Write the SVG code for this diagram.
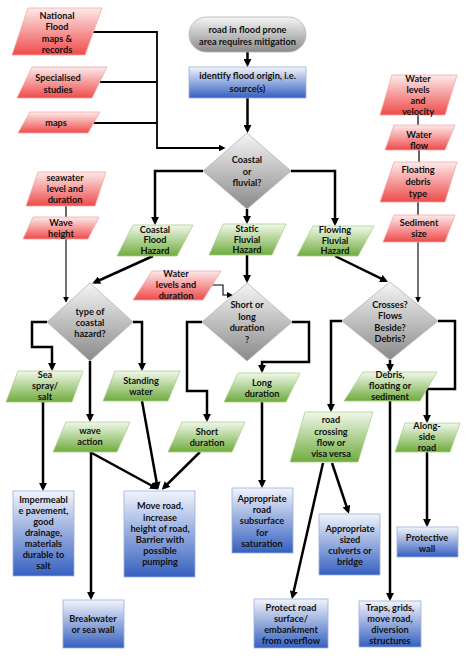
<svg xmlns="http://www.w3.org/2000/svg" width="474" height="662" viewBox="0 0 474 662">
<defs>
<linearGradient id="gRed" x1="0" y1="0" x2="0" y2="1"><stop offset="0" stop-color="#fdeaea"/><stop offset="1" stop-color="#f04a4a"/></linearGradient>
<linearGradient id="gGreen" x1="0" y1="0" x2="0" y2="1"><stop offset="0" stop-color="#f1f8eb"/><stop offset="1" stop-color="#6fac3d"/></linearGradient>
<linearGradient id="gBlue" x1="0" y1="0" x2="0" y2="1"><stop offset="0" stop-color="#f1f4fb"/><stop offset="1" stop-color="#3560c0"/></linearGradient>
<linearGradient id="gGray" x1="0" y1="0" x2="0" y2="1"><stop offset="0" stop-color="#f5f5f5"/><stop offset="1" stop-color="#8a8a8a"/></linearGradient>
<marker id="ah" viewBox="0 0 10 10" refX="7" refY="5" markerWidth="8" markerHeight="8" markerUnits="userSpaceOnUse" orient="auto"><path d="M0,0 L10,5 L0,10 z" fill="#000"/></marker>
<marker id="am" viewBox="0 0 10 10" refX="7" refY="5" markerWidth="7" markerHeight="7" markerUnits="userSpaceOnUse" orient="auto"><path d="M0,0 L10,5 L0,10 z" fill="#000"/></marker>
<marker id="as" viewBox="0 0 10 10" refX="7" refY="5" markerWidth="6" markerHeight="6" markerUnits="userSpaceOnUse" orient="auto"><path d="M0,0 L10,5 L0,10 z" fill="#000"/></marker>
</defs>
<style>
.red{fill:url(#gRed);stroke:#f3a8a8;stroke-width:0.8}
.green{fill:url(#gGreen);stroke:#abd08e;stroke-width:0.8}
.blue{fill:url(#gBlue);stroke:#9bb1dc;stroke-width:0.8}
.gray{fill:url(#gGray);stroke:#b3b3b3;stroke-width:0.8}
text{font-family:Lato,"Open Sans","Liberation Sans",sans-serif;font-weight:700;font-size:9.2px;text-anchor:middle;fill:#111}
.c{fill:none;stroke:#000;stroke-width:2.5;marker-end:url(#ah)}
.m{fill:none;stroke:#000;stroke-width:1.8}
.mm{fill:none;stroke:#000;stroke-width:1.8;marker-end:url(#am)}
.l{fill:none;stroke:#333;stroke-width:1.5}
.s{fill:none;stroke:#000;stroke-width:1.1;marker-end:url(#as)}
</style>
<rect width="474" height="662" fill="#fff"/>

<g id="connectors">
<path class="c" d="M247.5,52 V64.5"/>
<path class="c" d="M247.5,98 V130.5"/>
<path class="mm" d="M93,32 H157 V148 H223.5"/>
<path class="m" d="M100,82 H157"/>
<path class="m" d="M93,123 H157"/>
<path class="c" d="M203,171 H155 V222.5"/>
<path class="c" d="M247,209 V221.5"/>
<path class="c" d="M291,171 H335 V223.5"/>
<path class="c" d="M153,256 L94.5,282.5"/>
<path class="c" d="M247,255 V280.5"/>
<path class="c" d="M335,256 L385.8,280.9"/>
<path class="s" d="M212,285 H223 V295 H231"/>
<path class="s" d="M66,239 V301"/>
<path class="s" d="M418,242 V301"/>
<path class="l" d="M66,206 V217"/>
<path class="l" d="M418,115 V125"/>
<path class="l" d="M419,150 V162"/>
<path class="l" d="M418,202 V215"/>
<path class="c" d="M47,322 H32 V347 H52 V368.5"/>
<path class="c" d="M133,322 H142 V368.5"/>
<path class="c" d="M90,361 V419.5"/>
<path class="c" d="M202,322 H187 V391 H207 V419.5"/>
<path class="c" d="M292,322 H309 V362 H262 V370.5"/>
<path class="c" d="M342,321 H331 V409.5"/>
<path class="c" d="M390,360 V369.5"/>
<path class="c" d="M438,321 H455 V389 H427 V420.5"/>
<path class="c" d="M43,402 V488.5"/>
<path class="c" d="M91,452 V597.5"/>
<path class="c" d="M90,452 L156,488"/>
<path class="c" d="M142,401 L157.6,487.5"/>
<path class="c" d="M200,452 L163.5,488"/>
<path class="c" d="M262,402 V485.5"/>
<path class="c" d="M332,463 L348.2,511.5"/>
<path class="c" d="M323,463 L292.5,596.7"/>
<path class="c" d="M390,401 V598.5"/>
<path class="c" d="M427,452 V524.5"/>
</g>

<g id="start"><rect class="gray" x="189" y="17" width="117" height="35" rx="17.5"/>
<text x="247.5" y="33.3">road in flood prone</text><text x="247.5" y="45">area requires mitigation</text></g>
<g id="identify"><rect class="blue" x="189" y="67" width="117" height="31"/>
<text x="247.5" y="79">identify flood origin, i.e.</text><text x="247.5" y="91.5">source(s)</text></g>
<g id="coastal-or-fluvial"><polygon class="gray" points="247,133 291,171 247,209 203,171"/>
<text x="247" y="163.3">Coastal</text><text x="247" y="175">or</text><text x="247" y="186">fluvial?</text></g>

<g id="national-flood"><polygon class="red" points="28,8 102,8 85,55 12,55"/>
<text x="57" y="19">National</text><text x="57" y="30">Flood</text><text x="57" y="41.5">maps &amp;</text><text x="57" y="52.6">records</text></g>
<g id="specialised"><polygon class="red" points="32,67 107,67 92,98 17,98"/>
<text x="58" y="80.6">Specialised</text><text x="58" y="92.6">studies</text></g>
<g id="maps"><polygon class="red" points="30,112 100,112 88,133 18,133"/>
<text x="56" y="126">maps</text></g>

<g id="seawater"><polygon class="red" points="38,172 106,172 95,206 26,206"/>
<text x="65" y="180.6">seawater</text><text x="65" y="192">level and</text><text x="65" y="202.6">duration</text></g>
<g id="wave-height"><polygon class="red" points="33,217 99,217 88,239 23,239"/>
<text x="61" y="225.6">Wave</text><text x="61" y="237.3">height</text></g>
<g id="water-levels-duration"><polygon class="red" points="152,271 221,271 203,300 133,300"/>
<text x="176" y="277.3">Water</text><text x="176" y="288.3">levels and</text><text x="176" y="299.3">duration</text></g>

<g id="water-levels-velocity"><polygon class="red" points="392,75 457,75 445,115 380,115"/>
<text x="418" y="82.3">Water</text><text x="418" y="93.3">levels</text><text x="418" y="104">and</text><text x="418" y="115">velocity</text></g>
<g id="water-flow"><polygon class="red" points="394,125 455,125 445,150 385,150"/>
<text x="419" y="138.3">Water</text><text x="419" y="149">flow</text></g>
<g id="floating-debris"><polygon class="red" points="394,162 457,162 445,202 380,202"/>
<text x="418" y="173.3">Floating</text><text x="418" y="185">debris</text><text x="418" y="196.6">type</text></g>
<g id="sediment-size"><polygon class="red" points="394,215 455,215 445,242 383,242"/>
<text x="419" y="225.6">Sediment</text><text x="419" y="236.6">size</text></g>

<g id="coastal-flood-hazard"><polygon class="green" points="133,225 193,225 177,256 117,256"/>
<text x="155" y="232.6">Coastal</text><text x="155" y="243.3">Flood</text><text x="155" y="254.3">Hazard</text></g>
<g id="static-fluvial-hazard"><polygon class="green" points="223,224 286,224 272,255 209,255"/>
<text x="247" y="231.6">Static</text><text x="247" y="242.6">Fluvial</text><text x="247" y="253.3">Hazard</text></g>
<g id="flowing-fluvial-hazard"><polygon class="green" points="313,226 374,226 358,256 297,256"/>
<text x="335" y="232.6">Flowing</text><text x="335" y="244">Fluvial</text><text x="335" y="254.3">Hazard</text></g>

<g id="type-of-coastal-hazard"><polygon class="gray" points="90,283 133,322 90,361 47,322"/>
<text x="90" y="315">type of</text><text x="90" y="326">coastal</text><text x="90" y="337.3">hazard?</text></g>
<g id="short-or-long"><polygon class="gray" points="247,283 292,322 247,361 202,322"/>
<text x="247" y="308.3">Short or</text><text x="247" y="320">long</text><text x="247" y="331">duration</text><text x="247" y="342.6">?</text></g>
<g id="crosses"><polygon class="gray" points="390,282 438,321 390,360 342,321"/>
<text x="390" y="307.6">Crosses?</text><text x="390" y="319.3">Flows</text><text x="390" y="330.6">Beside?</text><text x="390" y="342">Debris?</text></g>

<g id="sea-spray"><polygon class="green" points="18,371 83,371 72,402 6,402"/>
<text x="45" y="377.6">Sea</text><text x="45" y="389">spray/</text><text x="45" y="400">salt</text></g>
<g id="standing-water"><polygon class="green" points="115,371 180,371 168,401 103,401"/>
<text x="141" y="384">Standing</text><text x="141" y="394.6">water</text></g>
<g id="wave-action"><polygon class="green" points="66,422 130,422 117,452 53,452"/>
<text x="90" y="434.3">wave</text><text x="90" y="445.3">action</text></g>
<g id="short-duration"><polygon class="green" points="182,422 245,422 232,452 168,452"/>
<text x="207" y="434.6">Short</text><text x="207" y="445.6">duration</text></g>
<g id="long-duration"><polygon class="green" points="238,373 300,373 286,402 224,402"/>
<text x="262" y="386">Long</text><text x="262" y="396.6">duration</text></g>
<g id="debris-floating"><polygon class="green" points="363,372 437,372 420,401 344,401"/>
<text x="390" y="377.6">Debris,</text><text x="390" y="389.3">floating or</text><text x="390" y="400">sediment</text></g>
<g id="road-crossing"><polygon class="green" points="305,412 373,412 358,462 290,462"/>
<text x="331" y="423.3">road</text><text x="331" y="435">crossing</text><text x="331" y="446">flow or</text><text x="331" y="456.6">visa versa</text></g>
<g id="along-side"><polygon class="green" points="405,423 460,423 450,452 395,452"/>
<text x="427" y="429.3">Along-</text><text x="427" y="440">side</text><text x="427" y="451">road</text></g>

<g id="impermeable"><rect class="blue" x="13" y="491" width="61" height="85"/>
<text x="43.5" y="502.6">Impermeabl</text><text x="43.5" y="514">e pavement,</text><text x="43.5" y="525">good</text><text x="43.5" y="536">drainage,</text><text x="43.5" y="547.3">materials</text><text x="43.5" y="558.3">durable to</text><text x="43.5" y="569.3">salt</text></g>
<g id="move-road"><rect class="blue" x="124" y="491" width="71" height="86"/>
<text x="160" y="509.3">Move road,</text><text x="160" y="520.6">increase</text><text x="160" y="531.6">height of road,</text><text x="160" y="542.6">Barrier with</text><text x="160" y="554">possible</text><text x="160" y="565">pumping</text></g>
<g id="breakwater"><rect class="blue" x="63" y="600" width="61" height="48"/>
<text x="93" y="621.6">Breakwater</text><text x="93" y="632.6">or sea wall</text></g>
<g id="road-subsurface"><rect class="blue" x="232" y="488" width="61" height="65"/>
<text x="262" y="502.3">Appropriate</text><text x="262" y="513.3">road</text><text x="262" y="524.3">subsurface</text><text x="262" y="535.6">for</text><text x="262" y="546.6">saturation</text></g>
<g id="culverts"><rect class="blue" x="319" y="514" width="61" height="61"/>
<text x="350" y="531.6">Appropriate</text><text x="350" y="542.6">sized</text><text x="350" y="554">culverts or</text><text x="350" y="565">bridge</text></g>
<g id="protect-road"><rect class="blue" x="254" y="599" width="74" height="49"/>
<text x="291" y="610.6">Protect road</text><text x="291" y="621.6">surface/</text><text x="291" y="633.3">embankment</text><text x="291" y="644">from overflow</text></g>
<g id="traps"><rect class="blue" x="359" y="601" width="62" height="46"/>
<text x="390" y="610.6">Traps, grids,</text><text x="390" y="621.6">move road,</text><text x="390" y="633.3">diversion</text><text x="390" y="644">structures</text></g>
<g id="protective-wall"><rect class="blue" x="397" y="527" width="61" height="30"/>
<text x="427" y="540.6">Protective</text><text x="427" y="551.6">wall</text></g>
</svg>
